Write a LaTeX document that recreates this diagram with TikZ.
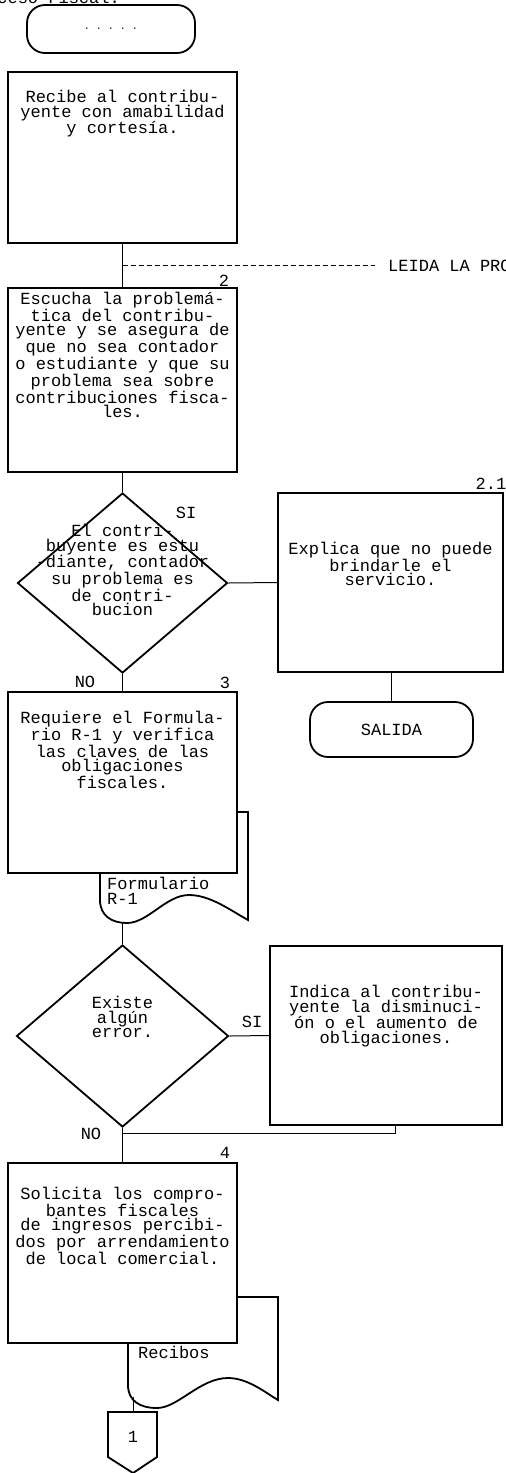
\documentclass[tikz,border=0pt]{standalone}
\usepackage{fontspec}
\setmonofont{Liberation Mono}
\usetikzlibrary{positioning,shapes.geometric,calc}

\tikzset{
  caja/.style={draw,line width=1.8pt,fill=white,inner sep=0pt},
  rombo/.style={diamond,draw,line width=1.8pt,fill=white,inner sep=0pt},
  termino/.style={draw,line width=1.8pt,rounded corners=18pt,inner sep=0pt},
  hoja/.style={draw,line width=1.8pt,fill=white},
  txt/.style={font=\ttfamily\fontsize{17}{14.5}\selectfont,align=center,inner sep=0pt},
  num/.style={font=\ttfamily\fontsize{17}{14.5}\selectfont,inner sep=0pt},
  linea/.style={line width=1pt},
}

\begin{document}
\begin{tikzpicture}[x=1pt,y=-1pt]
  \useasboundingbox (0,0) rectangle (506,1473);
  \def\ancho{229}   % 左列の箱の幅
  \def\cx{122.5}    % 左列の中心
  % 表題（上端で切れる）
  \node[num,anchor=base east] (titulo) at (120,3) {Proceso Fiscal.};
  \node[termino,minimum width=168pt,minimum height=48pt,font=\ttfamily] (inicio) at (111,29) {. . . . .};

  % 1
  \node[caja,minimum width=\ancho pt,minimum height=171pt] (b1) at (\cx,157.5) {};
  \node[txt,below=19pt of b1.north] (t1) {Recibe al contribu-\\yente con amabilidad\\y cortesía.};

  % 2
  \node[caja,minimum width=\ancho pt,minimum height=184pt] (b2) at (\cx,380) {};
  \node[txt,below=5pt of b2.north] (t2) {Escucha la problemá-\\tica del contribu-\\yente y se asegura de\\que no sea contador\\o estudiante y que su\\problema sea sobre\\contribuciones fisca-\\les.};
  \node[num] (n2) at (224,281) {2};
  \draw[linea] (b1.south) -- (b2.north);
  \coordinate (ramal) at ($(b1.south)!0.5!(b2.north)$);
  \node[num,anchor=west] (nota) at (388,265.5) {LEIDA LA PROBLEMATICA};
  \draw[linea,dash pattern=on 5pt off 3pt,shorten >=13pt] (ramal) -- (nota.west);

  % 判断 1
  \node[rombo,minimum width=210pt,minimum height=180pt] (d1) at (\cx,583) {};
  \node[txt,below=32pt of d1.north] (td1) {El contri-\\buyente es estu\\-diante, contador\\su problema es\\de contri-\\bucion};
  \node[num] (si1) at (186,513) {SI};
  \draw[linea] (b2.south) -- (d1.north);

  % 2.1
  \node[caja,minimum width=225pt,minimum height=179pt] (b21) at (390.5,582.5) {};
  \node[txt,below=50pt of b21.north] (t21) {Explica que no puede\\brindarle el\\servicio.};
  \node[num] (n21) at (491,484) {2.1};
  \node[termino,minimum width=163pt,minimum height=55pt] (sal) at (391.5,729.5) {};
  \node[txt] (tsal) at (sal) {SALIDA};
  \draw[linea] (d1.east) -- (b21.west);
  \draw[linea] (b21.south -| sal.north) -- (sal.north);

  % 3
  \draw[hoja,shift={(100,812)}] (0,0) -- (0,88) .. controls (0,104) and (12,111) .. (27,111)
    .. controls (48,111) and (66,83) .. (89,83) .. controls (110,83) and (130,98) .. (148,108) -- (148,0) -- cycle;
  \coordinate (f1) at (\cx,922);
  \node[caja,minimum width=\ancho pt,minimum height=181pt] (b3) at (\cx,782.5) {};
  \node[txt,below=20pt of b3.north] (t3) {Requiere el Formula-\\rio R-1 y verifica\\las claves de las\\obligaciones\\fiscales.};
  \node[txt,align=left,anchor=north west] (tf1) at (107,877) {Formulario\\R-1};
  \node[num] (no1) at (85,682) {NO};
  \node[num] (n3) at (225,683) {3};
  \draw[linea] (d1.south) -- (b3.north);

  % 判断 2
  \node[rombo,minimum width=212pt,minimum height=182pt] (d2) at (\cx,1036) {};
  \node[txt,below=52pt of d2.north] (td2) {Existe\\algún\\error.};
  \node[num] (si2) at (252,1022) {SI};
  \node[num] (no2) at (91,1134) {NO};
  \draw[linea] (f1) -- (d2.north);
  \node[caja,minimum width=232pt,minimum height=179pt] (b5) at (386,1035.5) {};
  \node[txt,below=40pt of b5.north] (t5) {Indica al contribu-\\yente la disminuci-\\ón o el aumento de\\obligaciones.};
  \draw[linea] (d2.east) -- (b5.west);
  \coordinate (ret) at (395,1133);
  \draw[linea] (b5.south -| ret) -- (ret) -- (ret -| d2.south);

  % 4
  \draw[hoja,shift={(128,1297)}] (0,0) -- (0,88) .. controls (0,104) and (12,111) .. (29,111)
    .. controls (50,111) and (72,81) .. (100,81) .. controls (120,81) and (138,96) .. (150,103) -- (150,0) -- cycle;
  \coordinate (f2) at (133,1397);
  \node[caja,minimum width=\ancho pt,minimum height=180pt] (b4) at (\cx,1253) {};
  \node[txt,below=25pt of b4.north] (t4) {Solicita los compro-\\bantes fiscales\\de ingresos percibi-\\dos por arrendamiento\\de local comercial.};
  \node[txt,anchor=north west] (tf2) at (138,1346) {Recibos};
  \node[num] (n4) at (225,1153) {4};
  \draw[linea] (d2.south) -- (b4.north);

  % 連結子
  \coordinate (pag) at (133,1412);
  \draw[line width=1.8pt] (108,1412) -- (157,1412) -- (157,1457) -- (133,1473) -- (108,1457) -- cycle;
  \node[num] (c1) at (133,1437) {1};
  \draw[linea] (f2) -- (pag);
\end{tikzpicture}
\end{document}
